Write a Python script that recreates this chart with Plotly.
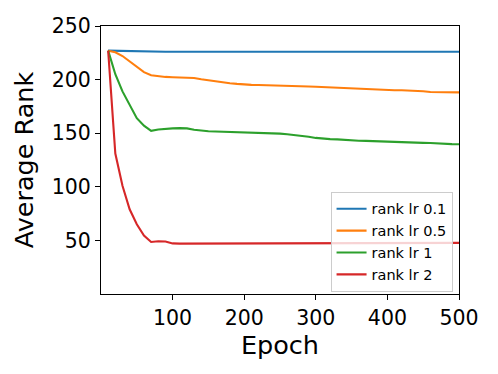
import plotly.graph_objects as go

# Epochs logged every 10 steps
epochs = list(range(10, 501, 10))

rank_lr_01 = [227, 226.8, 226.5, 226.3, 226.1] + [226.0] * 45

rank_lr_05 = [
    227, 225.5, 222, 217, 211.5, 207, 204, 203, 202.5, 202.2,
    202, 202.2, 201.5, 200.3, 199.2, 198.3, 197.5, 196.6, 196, 195.4,
    195.1, 195, 194.9, 194.8, 194.6, 194.4, 194.2, 193.9, 193.6, 193.3,
    193, 192.7, 192.4, 192.1, 191.8, 191.5, 191.3, 190.4, 190.3, 190.2,
    190.1, 190, 189.8, 189.6, 189.2, 188.4, 188.2, 188.2, 188.2, 188.1,
]

rank_lr_1 = [
    227, 205, 189, 177, 164, 157, 152.2, 153.5, 154.2, 154.5,
    154.7, 154.5, 153.2, 152.3, 151.8, 151.6, 151.4, 151.2, 151, 150.8,
    150.6, 150.5, 150.4, 150.2, 149.6, 149.0, 148.4, 147.8, 146.7, 145.6,
    144.8, 144.5, 144.2, 143.6, 143.2, 143.0, 142.8, 142.5, 142.3, 142.1,
    141.9, 141.6, 141.3, 141.1, 141, 140.9, 140.4, 140, 139.8, 139.7,
]

rank_lr_2 = [
    227, 131, 101, 79, 65, 54.5, 48.5, 49.2, 49, 47.2,
    47, 47, 47.2, 47.4, 47.5, 47.6,
] + [47.7] * 34

series = [
    ("rank lr 0.1", rank_lr_01, "#1f77b4"),
    ("rank lr 0.5", rank_lr_05, "#ff7f0e"),
    ("rank lr 1", rank_lr_1, "#2ca02c"),
    ("rank lr 2", rank_lr_2, "#d62728"),
]

fig = go.Figure()
for name, values, color in series:
    fig.add_trace(
        go.Scatter(
            x=epochs,
            y=values,
            name=name,
            mode="lines",
            line=dict(color=color, width=2.1),
        )
    )

axis_style = dict(
    automargin=False,
    showline=True,
    linecolor="black",
    linewidth=1.1,
    mirror=True,
    showgrid=False,
    zeroline=False,
    ticks="outside",
    ticklen=5,
    tickwidth=1.1,
    tickcolor="black",
    tickfont=dict(size=20.5, color="black"),
)

# the page body adds an 8px margin, so the figure is 8px smaller each way
fig.update_layout(
    width=490,
    height=366,
    margin=dict(l=93, r=39, t=18, b=80),
    paper_bgcolor="white",
    plot_bgcolor="white",
    font=dict(family="DejaVu Sans", color="black"),
    xaxis=dict(
        axis_style,
        range=[0, 500],
        tickvals=[100, 200, 300, 400, 500],
        title=dict(text="Epoch", font=dict(size=25.5), standoff=4),
    ),
    yaxis=dict(
        axis_style,
        range=[0, 250],
        tickvals=[50, 100, 150, 200, 250],
        title=dict(text="Average Rank", font=dict(size=25.5), standoff=10),
    ),
    legend=dict(
        x=0.982,
        y=0.008,
        xanchor="right",
        yanchor="bottom",
        bgcolor="rgba(255,255,255,0.8)",
        bordercolor="#cccccc",
        borderwidth=1,
        font=dict(size=14.5),
    ),
    showlegend=True,
)

fig.write_html("out.html")
